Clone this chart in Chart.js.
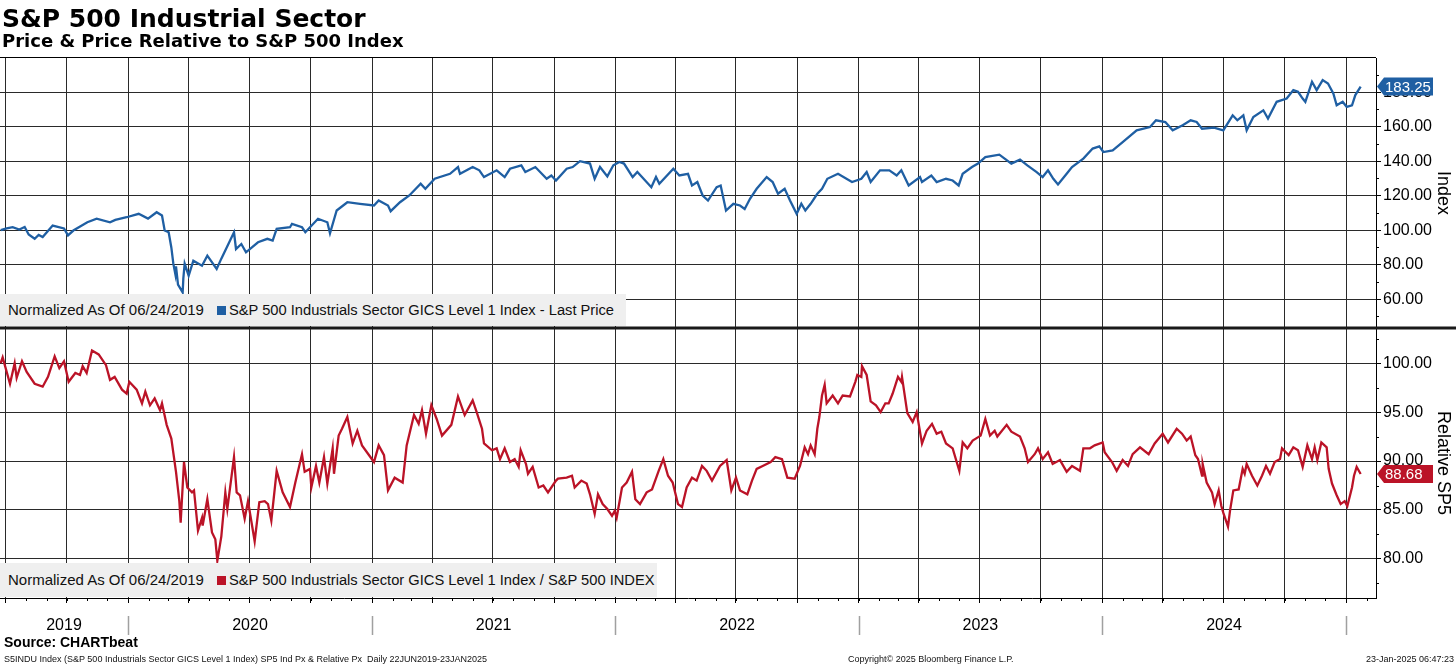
<!DOCTYPE html>
<html>
<head>
<meta charset="utf-8">
<title>S&amp;P 500 Industrial Sector</title>
<script src="https://cdn.jsdelivr.net/npm/chart.js@4.4.1/dist/chart.umd.min.js"></script>
<style>
  html, body { margin: 0; padding: 0; background: #fff; }
  #wrap { position: relative; width: 1456px; height: 665px; overflow: hidden; font-family: 'Liberation Sans', Arial, sans-serif; color: #000; }
  #chart { position: absolute; left: 0; top: 0; }
  #title { position: absolute; left: 2px; top: 6px; font: bold 25px/25px 'DejaVu Sans', sans-serif; white-space: nowrap; }
  #subtitle { position: absolute; left: 2px; top: 32px; font: bold 18px/18px 'DejaVu Sans', sans-serif; white-space: nowrap; }
  .legend { position: absolute; left: 0; background: #efefef; font-size: 15px; white-space: nowrap; padding-left: 8px; box-sizing: border-box; color: #111; }
  .legend .sq { display: inline-block; width: 9px; height: 9px; margin: 0 3px 0 13px; vertical-align: 0px; }
  .legend .nm { font-size: 14.7px; }
  #legTop { top: 294px; width: 626px; height: 32px; line-height: 32px; }
  #legBot { top: 563px; width: 657px; height: 34px; line-height: 34px; }
  #source { position: absolute; left: 4px; top: 635px; font: bold 14px/15px 'Liberation Sans', sans-serif; }
  .foot { position: absolute; top: 653px; font-size: 9px; line-height: 12px; white-space: nowrap; color: #111; }
</style>
</head>
<body>
<div id="wrap">
  <canvas id="chart" width="1456" height="665" style="width:1456px;height:665px"></canvas>
  <div id="title">S&amp;P 500 Industrial Sector</div>
  <div id="subtitle">Price &amp; Price Relative to S&amp;P 500 Index</div>
  <div class="legend" id="legTop">Normalized As Of 06/24/2019<span class="sq" style="background:#1f5fa3"></span><span class="nm">S&amp;P 500 Industrials Sector GICS Level 1 Index - Last Price</span></div>
  <div class="legend" id="legBot">Normalized As Of 06/24/2019<span class="sq" style="background:#bb1327"></span><span class="nm">S&amp;P 500 Industrials Sector GICS Level 1 Index / S&amp;P 500 INDEX</span></div>
  <div id="source">Source: CHARTbeat</div>
  <div class="foot" style="left:4px">S5INDU Index (S&amp;P 500 Industrials Sector GICS Level 1 Index) SP5 Ind Px &amp; Relative Px&nbsp; Daily 22JUN2019-23JAN2025</div>
  <div class="foot" style="left:848px">Copyright© 2025 Bloomberg Finance L.P.</div>
  <div class="foot" style="right:2px">23-Jan-2025 06:47:23</div>
</div>
<script>
// ----------- Data -----------
const priceDates = [
  "2019-06-24","2019-07-03","2019-07-12","2019-07-22","2019-07-30","2019-08-05","2019-08-14","2019-08-20","2019-08-26","2019-09-10",
  "2019-09-27","2019-10-03","2019-10-11","2019-11-01","2019-11-15","2019-12-05","2019-12-13","2019-12-30","2020-01-17","2020-01-31",
  "2020-02-13","2020-02-21","2020-02-25","2020-03-02","2020-03-06","2020-03-09","2020-03-12","2020-03-13","2020-03-16","2020-03-23",
  "2020-03-24","2020-03-26","2020-04-01","2020-04-08","2020-04-21","2020-04-29","2020-05-13","2020-05-20","2020-06-08","2020-06-11",
  "2020-06-19","2020-06-26","2020-07-14","2020-07-28","2020-08-05","2020-08-11","2020-08-31","2020-09-03","2020-09-18","2020-09-23",
  "2020-10-12","2020-10-26","2020-10-30","2020-11-09","2020-11-25","2020-12-14","2021-01-04","2021-01-11","2021-01-25","2021-01-29",
  "2021-02-12","2021-02-26","2021-03-15","2021-03-22","2021-04-05","2021-04-28","2021-05-10","2021-05-13","2021-06-01","2021-06-11",
  "2021-06-18","2021-07-07","2021-07-19","2021-07-27","2021-08-13","2021-08-19","2021-09-03","2021-09-20","2021-09-27","2021-10-04",
  "2021-10-20","2021-10-29","2021-11-09","2021-11-24","2021-12-01","2021-12-09","2021-12-20","2021-12-29","2022-01-07","2022-01-14",
  "2022-01-27","2022-02-03","2022-02-11","2022-02-24","2022-03-03","2022-03-08","2022-03-29","2022-04-07","2022-04-20","2022-04-26",
  "2022-05-04","2022-05-12","2022-05-20","2022-06-02","2022-06-08","2022-06-16","2022-06-27","2022-07-07","2022-07-14","2022-07-22",
  "2022-08-01","2022-08-16","2022-08-25","2022-09-02","2022-09-12","2022-09-20","2022-09-30","2022-10-07","2022-10-13","2022-10-21",
  "2022-10-31","2022-11-07","2022-11-15","2022-12-01","2022-12-22","2023-01-05","2023-01-13","2023-01-19","2023-02-02","2023-02-16",
  "2023-02-27","2023-03-06","2023-03-17","2023-04-03","2023-04-06","2023-04-20","2023-04-28","2023-05-12","2023-05-22","2023-05-31",
  "2023-06-06","2023-06-20","2023-06-29","2023-07-10","2023-07-31","2023-08-08","2023-08-18","2023-08-31","2023-09-11","2023-09-25",
  "2023-10-04","2023-10-12","2023-10-20","2023-10-27","2023-11-09","2023-11-17","2023-12-04","2023-12-18","2023-12-28","2024-01-03",
  "2024-01-17","2024-02-01","2024-02-22","2024-03-13","2024-03-22","2024-04-05","2024-04-16","2024-05-01","2024-05-13","2024-05-22",
  "2024-05-30","2024-06-17","2024-07-01","2024-07-15","2024-07-22","2024-07-31","2024-08-05","2024-08-15","2024-08-30","2024-09-06",
  "2024-09-19","2024-10-04","2024-10-14","2024-10-21","2024-10-28","2024-11-01","2024-11-11","2024-11-18","2024-11-27","2024-12-05",
  "2024-12-13","2024-12-18","2024-12-27","2025-01-02","2025-01-10","2025-01-15","2025-01-23"
];
const priceValues = [
  100.0,101.0,101.7,100.4,101.8,97.5,95.0,97.2,96.0,102.7,
  101.0,97.0,99.8,104.6,106.7,104.6,106.0,107.5,109.5,106.7,
  110.4,108.5,99.8,98.8,90.0,80.6,74.5,79.0,68.5,64.0,
  72.0,80.6,73.6,82.3,79.4,85.2,77.5,83.5,98.8,89.1,
  92.0,87.2,93.0,95.0,94.0,100.8,101.7,103.7,101.7,98.8,
  106.6,104.6,98.2,111.4,116.2,115.3,114.3,117.2,114.3,111.0,
  116.2,120.1,126.9,124.0,129.8,132.7,136.6,132.7,136.6,134.7,
  130.8,134.7,130.8,135.6,137.6,133.7,136.6,129.8,131.7,128.8,
  135.6,136.6,140.0,138.6,129.8,136.6,131.2,137.6,139.5,138.6,
  130.8,133.7,130.4,124.9,130.8,126.9,135.6,131.7,132.7,125.9,
  127.9,120.1,117.2,124.9,125.9,111.4,115.3,114.3,112.3,118.2,
  124.0,130.8,127.9,121.1,124.0,117.2,109.5,115.3,111.4,115.3,
  121.1,124.0,129.8,132.7,127.9,129.8,133.7,127.9,134.7,134.7,
  131.7,134.7,125.9,130.8,127.9,131.7,127.9,129.8,128.8,125.9,
  132.7,136.6,138.6,142.4,143.8,141.5,138.6,140.9,137.6,133.7,
  130.8,134.7,129.8,126.5,132.7,136.6,141.5,147.3,148.6,145.3,
  146.3,151.1,157.9,159.8,163.7,162.7,157.9,160.8,163.7,162.7,
  158.8,159.4,157.9,166.6,163.7,166.6,157.9,165.6,169.5,164.7,
  174.4,176.3,181.2,180.2,176.3,174.4,186.0,181.2,187.0,185.0,
  179.2,172.4,174.4,171.5,172.4,178.3,183.25
];

const relDates = [
  "2019-06-24","2019-06-27","2019-07-08","2019-07-15","2019-07-18","2019-07-26","2019-08-02","2019-08-14","2019-08-26","2019-09-03",
  "2019-09-13","2019-09-20","2019-09-27","2019-10-04","2019-10-14","2019-10-21","2019-10-25","2019-10-31","2019-11-08","2019-11-18",
  "2019-11-29","2019-12-05","2019-12-12","2019-12-23","2019-12-30","2020-01-03","2020-01-14","2020-01-22","2020-01-27","2020-02-03",
  "2020-02-10","2020-02-18","2020-02-21","2020-02-28","2020-03-06","2020-03-13","2020-03-18","2020-03-20","2020-03-25","2020-03-30",
  "2020-04-06","2020-04-09","2020-04-15","2020-04-21","2020-04-22","2020-04-29","2020-05-06","2020-05-11","2020-05-14","2020-05-20",
  "2020-05-26","2020-05-29","2020-06-08","2020-06-12","2020-06-17","2020-06-24","2020-06-29","2020-07-09","2020-07-16","2020-07-24",
  "2020-07-29","2020-08-03","2020-08-11","2020-08-20","2020-08-31","2020-09-08","2020-09-18","2020-09-22","2020-09-30","2020-10-02",
  "2020-10-09","2020-10-14","2020-10-21","2020-10-26","2020-11-03","2020-11-05","2020-11-12","2020-11-17","2020-11-25","2020-12-03",
  "2020-12-10","2020-12-17","2021-01-04","2021-01-11","2021-01-19","2021-01-25","2021-02-04","2021-02-16","2021-02-22","2021-03-05",
  "2021-03-12","2021-03-17","2021-03-23","2021-03-31","2021-04-08","2021-04-16","2021-04-30","2021-05-10","2021-05-20","2021-06-01",
  "2021-06-07","2021-06-15","2021-06-18","2021-06-30","2021-07-07","2021-07-12","2021-07-19","2021-07-27","2021-08-03","2021-08-09",
  "2021-08-12","2021-08-20","2021-08-23","2021-08-30","2021-09-08","2021-09-15","2021-09-22","2021-10-04","2021-10-07","2021-10-20",
  "2021-10-28","2021-11-01","2021-11-11","2021-11-19","2021-11-24","2021-12-01","2021-12-06","2021-12-13","2021-12-20","2021-12-27",
  "2021-12-31","2022-01-03","2022-01-11","2022-01-18","2022-01-26","2022-01-31","2022-02-07","2022-02-17","2022-02-25","2022-03-07",
  "2022-03-14","2022-03-21","2022-03-28","2022-04-05","2022-04-11","2022-04-18","2022-04-26","2022-05-03","2022-05-11","2022-05-18",
  "2022-05-26","2022-06-07","2022-06-17","2022-06-24","2022-07-01","2022-07-07","2022-07-18","2022-07-25","2022-08-01","2022-08-10",
  "2022-08-22","2022-08-29","2022-09-08","2022-09-16","2022-09-27","2022-10-05","2022-10-12","2022-10-17","2022-10-21","2022-10-27",
  "2022-10-31","2022-11-03","2022-11-07","2022-11-11","2022-11-14","2022-11-23","2022-12-01","2022-12-08","2022-12-19","2022-12-27",
  "2022-12-30","2023-01-05","2023-01-06","2023-01-13","2023-01-19","2023-01-27","2023-02-03","2023-02-10","2023-02-15","2023-02-21",
  "2023-03-01","2023-03-06","2023-03-07","2023-03-15","2023-03-23","2023-03-29","2023-04-06","2023-04-13","2023-04-21","2023-04-28",
  "2023-05-05","2023-05-12","2023-05-22","2023-06-01","2023-06-06","2023-06-13","2023-06-21","2023-07-03","2023-07-10","2023-07-17",
  "2023-07-24","2023-07-28","2023-08-11","2023-08-18","2023-08-31","2023-09-07","2023-09-12","2023-09-22","2023-09-27","2023-10-04",
  "2023-10-12","2023-10-19","2023-10-30","2023-11-09","2023-11-17","2023-11-29","2023-12-04","2023-12-14","2023-12-21","2024-01-02",
  "2024-01-05","2024-01-16","2024-01-23","2024-02-01","2024-02-09","2024-02-16","2024-02-27","2024-03-11","2024-03-20","2024-04-01",
  "2024-04-09","2024-04-22","2024-04-30","2024-05-07","2024-05-13","2024-05-20","2024-05-24","2024-05-30","2024-05-31","2024-06-06",
  "2024-06-14","2024-06-18","2024-06-24","2024-06-28","2024-07-01","2024-07-08","2024-07-11","2024-07-16","2024-07-24","2024-07-30",
  "2024-08-02","2024-08-05","2024-08-13","2024-08-21","2024-08-28","2024-09-03","2024-09-09","2024-09-16","2024-09-24","2024-09-27",
  "2024-10-07","2024-10-14","2024-10-21","2024-10-28","2024-11-04","2024-11-11","2024-11-15","2024-11-19","2024-11-25","2024-12-03",
  "2024-12-06","2024-12-11","2024-12-18","2024-12-24","2024-12-30","2025-01-03","2025-01-10","2025-01-13","2025-01-17","2025-01-23"
];
const relValues = [
  100.0,100.6,97.9,100.0,98.5,100.2,99.1,97.9,97.6,98.6,
  100.7,99.5,100.2,98.1,99.0,98.8,99.7,99.0,101.3,100.9,
  99.8,98.3,98.6,97.3,96.9,98.1,97.3,95.9,97.1,95.7,
  96.4,95.2,95.9,93.7,92.3,88.9,85.9,83.7,89.9,87.3,
  86.8,87.0,82.9,84.2,83.4,86.1,82.7,82.0,79.8,82.3,
  86.8,85.1,90.4,86.8,86.5,84.1,85.9,81.8,85.8,85.9,
  85.6,83.9,89.0,86.8,85.3,87.8,90.7,88.9,89.2,87.3,
  89.5,87.8,90.4,87.7,91.3,88.7,92.6,93.3,94.5,91.8,
  93.1,91.6,89.9,91.6,90.6,87.0,88.3,87.8,91.6,94.7,
  93.8,95.2,92.8,95.7,94.3,92.6,93.7,96.6,94.7,96.2,
  95.0,93.3,91.8,91.1,91.3,90.2,91.3,89.9,90.2,89.4,
  91.1,89.7,88.7,89.4,87.3,87.5,86.8,88.0,88.2,88.3,
  88.5,87.3,88.0,87.7,86.6,84.6,86.6,85.6,85.1,84.4,
  84.9,84.2,87.3,87.8,88.9,86.1,85.6,86.8,87.1,89.0,
  90.2,88.5,87.8,85.6,85.3,87.3,88.3,88.0,89.5,89.0,
  88.0,89.5,90.1,87.0,88.3,87.0,86.6,88.0,89.2,89.5,
  89.9,90.4,90.2,88.3,88.2,89.5,91.4,90.7,91.6,90.7,
  93.3,94.5,96.7,97.8,95.9,96.7,95.9,96.7,96.6,98.1,
  98.8,98.6,99.7,98.8,96.1,95.7,95.0,95.9,95.9,96.9,
  98.6,98.1,98.6,94.9,94.0,95.0,91.8,93.1,93.8,92.8,
  93.0,91.8,91.3,89.0,91.9,91.3,92.1,92.6,94.3,92.6,
  93.1,92.5,93.7,93.0,92.5,91.3,89.9,90.7,91.3,90.2,
  90.9,89.7,90.1,88.9,89.5,89.0,91.3,91.3,91.6,91.9,
  90.9,89.9,89.0,90.1,89.5,90.7,91.4,90.7,91.8,92.8,
  91.9,93.3,92.8,92.1,92.5,90.6,90.2,88.5,89.7,87.8,
  86.8,85.6,87.0,85.4,84.7,83.3,84.9,87.0,87.1,89.2,
  88.7,89.7,88.5,87.5,88.5,89.5,88.7,89.9,90.2,91.3,
  90.6,91.4,91.1,89.4,91.6,90.2,91.4,90.1,91.9,91.4,
  89.2,87.7,86.5,85.6,85.9,85.4,87.3,88.5,89.4,88.68
];

// axis ticks
const priceTicks = [60, 80, 100, 120, 140, 160, 180];
const priceMinor = [50, 70, 90, 110, 130, 150, 170, 190];
const relTicks = [80, 85, 90, 95, 100];
const relMinor = [77.5, 82.5, 87.5, 92.5, 97.5, 102.5];
const yearLabels = ["2019", "2020", "2021", "2022", "2023", "2024"];

const xMin = Date.UTC(2019, 5, 23);
const xMax = Date.UTC(2025, 1, 15);

const BLUE = "#1f5fa3";
const RED = "#bb1327";
const GRID = "#2a2a2a";

// ----------- Helpers -----------
function toPoints(dates, vals) {
    return dates.map((d, i) => ({ x: Date.parse(d), y: vals[i] }));
}

function monthStarts(step) {
    const out = [];
    for (let y = 2019; y <= 2025; y++) {
        for (let m = 0; m < 12; m += step) {
            const t = Date.UTC(y, m, 1);
            if (t >= xMin && t <= xMax) out.push(t);
        }
    }
    return out;
}

function drawTag(ctx, x, y, text, color) {
    const h = 18, w = 56, a = 7;
    ctx.beginPath();
    ctx.moveTo(x, y);
    ctx.lineTo(x + a, y - h / 2);
    ctx.lineTo(x + w, y - h / 2);
    ctx.lineTo(x + w, y + h / 2);
    ctx.lineTo(x + a, y + h / 2);
    ctx.closePath();
    ctx.fillStyle = color;
    ctx.fill();
    ctx.fillStyle = "#fff";
    ctx.font = "15px 'Liberation Sans'";
    ctx.textAlign = "left";
    ctx.textBaseline = "middle";
    ctx.fillText(text, x + a + 1, y + 1);
}

// ----------- Extra drawing: borders, minor ticks, year labels, tags -----------
const extras = {
    id: "extras",
    afterDraw(chart) {
        const { ctx, chartArea: a, scales } = chart;
        const x = scales.x, yp = scales.yPrice, yr = scales.yRel;
        ctx.save();

        // top border + divider between the panels
        ctx.fillStyle = "#000";
        ctx.fillRect(a.left, a.top - 1, a.right - a.left, 1);
        ctx.fillStyle = "#1a1a1a";
        ctx.fillRect(0, yp.bottom - 1.5, chart.width, 3);

        // minor ticks
        ctx.strokeStyle = "#000";
        ctx.lineWidth = 1;
        ctx.beginPath();
        monthStarts(1).forEach(t => {
            const px = Math.round(x.getPixelForValue(t)) + 0.5;
            ctx.moveTo(px, a.bottom);
            ctx.lineTo(px, a.bottom + 3);
        });
        priceMinor.forEach(v => {
            const py = Math.round(yp.getPixelForValue(v)) + 0.5;
            ctx.moveTo(a.right, py);
            ctx.lineTo(a.right + 3, py);
        });
        relMinor.forEach(v => {
            const py = Math.round(yr.getPixelForValue(v)) + 0.5;
            ctx.moveTo(a.right, py);
            ctx.lineTo(a.right + 3, py);
        });
        ctx.stroke();

        // year labels centred in each visible year, with separators
        ctx.fillStyle = "#000";
        ctx.font = "16px 'Liberation Sans'";
        ctx.textAlign = "center";
        ctx.textBaseline = "middle";
        yearLabels.forEach(lbl => {
            const y0 = Math.max(xMin, Date.UTC(+lbl, 0, 1));
            const y1 = Math.min(xMax, Date.UTC(+lbl + 1, 0, 1));
            const p0 = x.getPixelForValue(y0), p1 = x.getPixelForValue(y1);
            ctx.fillText(lbl, (p0 + p1) / 2, 626);
        });
        ctx.strokeStyle = "#a0a0a0";
        ctx.lineWidth = 1.5;
        ctx.beginPath();
        for (let yr2 = 2020; yr2 <= 2025; yr2++) {
            const px = Math.round(x.getPixelForValue(Date.UTC(yr2, 0, 1))) + 0.5;
            ctx.moveTo(px, 616);
            ctx.lineTo(px, 635);
        }
        ctx.stroke();

        // last value tags
        drawTag(ctx, a.right + 1, yp.getPixelForValue(priceValues[priceValues.length - 1]),
            priceValues[priceValues.length - 1].toFixed(2), BLUE);
        drawTag(ctx, a.right + 1, yr.getPixelForValue(relValues[relValues.length - 1]),
            relValues[relValues.length - 1].toFixed(2), RED);

        ctx.restore();
    }
};

// ----------- Chart -----------
Chart.defaults.font.family = "'Liberation Sans', Arial, sans-serif";
Chart.defaults.color = "#000";

function yAxis(ticks, min, max, title) {
    return {
        type: "linear",
        position: "right",
        stack: "panels",
        stackWeight: 1,
        min: min,
        max: max,
        afterBuildTicks: s => { s.ticks = ticks.map(v => ({ value: v })); },
        afterFit: s => { s.width = 80; },
        grid: { color: GRID, lineWidth: 1, tickLength: 5, tickColor: "#000" },
        border: { display: true, color: "#000", width: 1 },
        ticks: { autoSkip: false, padding: 2, font: { size: 16 }, callback: v => v.toFixed(2) },
        title: { display: true, text: title, font: { size: 18 }, padding: { top: 2, bottom: 0 } }
    };
}

new Chart(document.getElementById("chart"), {
    type: "line",
    data: {
        datasets: [
            { label: "Price", data: toPoints(priceDates, priceValues), yAxisID: "yPrice",
              borderColor: BLUE, borderWidth: 2.3, pointRadius: 0, tension: 0 },
            { label: "Relative", data: toPoints(relDates, relValues), yAxisID: "yRel",
              borderColor: RED, borderWidth: 2.3, pointRadius: 0, tension: 0 }
        ]
    },
    options: {
        responsive: false,
        animation: false,
        devicePixelRatio: 1,
        layout: { padding: { top: 58, left: 0, right: 0, bottom: 0 } },
        plugins: { legend: { display: false }, tooltip: { enabled: false } },
        scales: {
            x: {
                type: "linear",
                position: "bottom",
                min: xMin,
                max: xMax,
                afterBuildTicks: s => { s.ticks = monthStarts(3).map(v => ({ value: v })); },
                afterFit: s => { s.height = 67; },
                grid: { color: GRID, lineWidth: 1, tickLength: 5, tickColor: "#000" },
                border: { display: true, color: "#000", width: 1 },
                ticks: { display: false }
            },
            yPrice: yAxis(priceTicks, 43.3, 199.8, "Index"),
            yRel: yAxis(relTicks, 76.0, 103.6, "Relative SP5")
        }
    },
    plugins: [extras]
});
</script>
</body>
</html>
